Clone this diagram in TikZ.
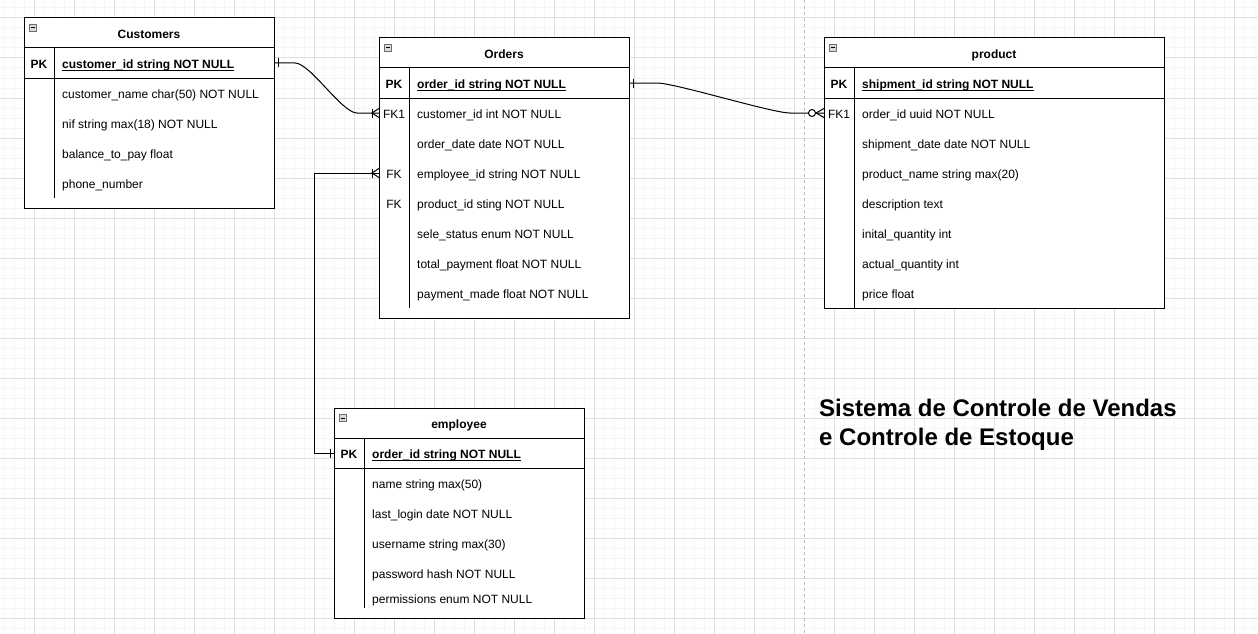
\documentclass[tikz,border=0pt]{standalone}
\usepackage{fontspec}
\setmainfont{Liberation Sans}
\usetikzlibrary{calc}
\definecolor{gridmaj}{RGB}{224,224,224}
\definecolor{gridmin}{RGB}{245,245,245}
\definecolor{dashc}{RGB}{190,190,190}
\definecolor{iconfill}{RGB}{218,218,218}
\definecolor{iconline}{RGB}{110,110,110}
\newcommand\erfs{\fontsize{12}{14}\selectfont}
\newcommand\erfsb{\fontsize{12}{14}\selectfont\bfseries}
\newcommand\erbig{\fontsize{24}{29}\selectfont\bfseries}
\tikzset{
  ln/.style={line width=1pt, draw=black},
  tbl/.style={ln, fill=white, anchor=north west, inner sep=0pt, outer sep=0pt},
  rowbox/.style={anchor=north west, minimum height=30, inner sep=0pt, outer sep=0pt},
  fld/.style={anchor=base west, inner sep=0pt, font=\erfs, yshift=-0.8pt},
  pkfld/.style={anchor=base west, inner sep=0pt, font=\erfsb, yshift=-0.8pt},
  keyl/.style={anchor=base, inner sep=0pt, font=\erfs, yshift=-0.8pt},
  pkkey/.style={anchor=base, inner sep=0pt, font=\erfsb, yshift=-0.8pt},
  ttl/.style={anchor=base, inner sep=0pt, font=\erfsb, yshift=-0.8pt},
  bigttl/.style={anchor=base west, inner sep=0pt, font=\erbig},
  conn/.style={line width=1pt, draw=black},
  minorgrid/.style={draw=gridmin, line width=1pt},
  majorgrid/.style={draw=gridmaj, line width=1pt},
}
% minus icon at table top-left corner (x,y)
\newcommand\ericon[2]{%
  \draw[draw=iconline, fill=iconfill, line width=0.8pt] (#1+5.5,#2+6.5) rectangle (#1+12.5,#2+13.5);
  \draw[line width=1pt] (#1+7,#2+10) -- (#1+11,#2+10);}
% one-or-many mark at the west side of a row node
\newcommand\crowW[1]{%
  \draw[conn] ($(#1.west)+(-7,-4.5)$) -- ($(#1.west)+(-7,4.5)$);
  \draw[conn] ($(#1.west)+(0,-4.5)$) -- ($(#1.west)+(-7,0)$) -- ($(#1.west)+(0,4.5)$);}
\newcommand\underl[1]{%
  \draw[line width=1pt] ($(#1.base west)+(0,1.6)$) -- ($(#1.base east)+(0,1.6)$);}
\begin{document}
\begin{tikzpicture}[x=1pt,y=-1pt]
\useasboundingbox (0,0) rectangle (1258,634);
\fill[white] (0,0) rectangle (1258,634);
% grid
\foreach \gx in {4,14,...,1254} {\draw[minorgrid] (\gx,0) -- (\gx,634);}
\foreach \gy in {8,18,...,628} {\draw[minorgrid] (0,\gy) -- (1258,\gy);}
\foreach \gx in {34,74,...,1234} {\draw[majorgrid] (\gx,0) -- (\gx,634);}
\foreach \gy in {18,58,...,618} {\draw[majorgrid] (0,\gy) -- (1258,\gy);}
\draw[dashc, line width=1pt, dash pattern=on 3pt off 3pt] (804,0) -- (804,634);

% ================= Customers =================
\node[tbl, minimum width=250, minimum height=190] (cust) at (24,18) {};
\draw[ln] (24,48) -- (274,48);
\draw[ln] (24,78) -- (274,78);
\draw[ln] (54,48) -- (54,198);
\ericon{24}{18}
\node[ttl] (custt) at (149,37.8) {Customers};
\node[rowbox, minimum width=250] (cpk) at (24,48) {};
\node[pkkey] (cpkk) at (39,67.8) {PK};
\node[pkfld] (cpkf) at (62,67.8) {customer\_id string NOT NULL};
\underl{cpkf}
\node[fld] (c1) at (62,97.8) {customer\_name char(50) NOT NULL};
\node[fld] (c2) at (62,127.8) {nif string max(18) NOT NULL};
\node[fld] (c3) at (62,157.8) {balance\_to\_pay float};
\node[fld] (c4) at (62,187.8) {phone\_number};

% ================= Orders =================
\node[tbl, minimum width=250, minimum height=280] (ord) at (379,38) {};
\draw[ln] (379,68) -- (629,68);
\draw[ln] (379,98) -- (629,98);
\draw[ln] (409,68) -- (409,308);
\ericon{379}{38}
\node[ttl] (ordt) at (504,57.8) {Orders};
\node[rowbox, minimum width=250] (opk) at (379,68) {};
\node[rowbox, minimum width=250] (ofk1) at (379,98) {};
\node[rowbox, minimum width=250] (ofk) at (379,158) {};
\node[pkkey] (opkk) at (394,87.8) {PK};
\node[pkfld] (opkf) at (417,87.8) {order\_id string NOT NULL};
\underl{opkf}
\node[keyl] (ok1) at (394,117.8) {FK1};
\node[keyl] (ok3) at (394,177.8) {FK};
\node[keyl] (ok4) at (394,207.8) {FK};
\node[fld] (o1) at (417,117.8) {customer\_id int NOT NULL};
\node[fld] (o2) at (417,147.8) {order\_date date NOT NULL};
\node[fld] (o3) at (417,177.8) {employee\_id string NOT NULL};
\node[fld] (o4) at (417,207.8) {product\_id sting NOT NULL};
\node[fld] (o5) at (417,237.8) {sele\_status enum NOT NULL};
\node[fld] (o6) at (417,267.8) {total\_payment float NOT NULL};
\node[fld] (o7) at (417,297.8) {payment\_made float NOT NULL};

% ================= product =================
\node[tbl, minimum width=340, minimum height=270] (prod) at (824,38) {};
\draw[ln] (824,68) -- (1164,68);
\draw[ln] (824,98) -- (1164,98);
\draw[ln] (854,68) -- (854,308);
\ericon{824}{38}
\node[ttl] (prodt) at (994,57.8) {product};
\node[rowbox, minimum width=340] (pfk1) at (824,98) {};
\node[pkkey] (ppkk) at (839,87.8) {PK};
\node[pkfld] (ppkf) at (862,87.8) {shipment\_id string NOT NULL};
\underl{ppkf}
\node[keyl] (pk1) at (839,117.8) {FK1};
\node[fld] (p1) at (862,117.8) {order\_id uuid NOT NULL};
\node[fld] (p2) at (862,147.8) {shipment\_date date NOT NULL};
\node[fld] (p3) at (862,177.8) {product\_name string max(20)};
\node[fld] (p4) at (862,207.8) {description text};
\node[fld] (p5) at (862,237.8) {inital\_quantity int};
\node[fld] (p6) at (862,267.8) {actual\_quantity int};
\node[fld] (p7) at (862,297.8) {price float};

% ================= employee =================
\node[tbl, minimum width=250, minimum height=210] (emp) at (334,408) {};
\draw[ln] (334,438) -- (584,438);
\draw[ln] (334,468) -- (584,468);
\draw[ln] (364,438) -- (364,608);
\ericon{334}{408}
\node[ttl] (empt) at (459,427.8) {employee};
\node[rowbox, minimum width=250] (epk) at (334,438) {};
\node[pkkey] (epkk) at (349,457.8) {PK};
\node[pkfld] (epkf) at (372,457.8) {order\_id string NOT NULL};
\underl{epkf}
\node[fld] (e1) at (372,487.8) {name string max(50)};
\node[fld] (e2) at (372,517.8) {last\_login date NOT NULL};
\node[fld] (e3) at (372,547.8) {username string max(30)};
\node[fld] (e4) at (372,577.8) {password hash NOT NULL};
\node[fld] (e5) at (372,602.8) {permissions enum NOT NULL};

% ================= title =================
\node[bigttl] (title1) at (819,416) {Sistema de Controle de Vendas};
\node[bigttl] (title2) at (819,445) {e Controle de Estoque};

% ================= connectors =================
% Customers (one) -- Orders (one or many)
\draw[conn] (cpk.east) -- ($(cpk.east)+(21,0)$)
  .. controls ($(cpk.east)+(36,0)$) and ($(ofk1.west)+(-37,0)$) .. ($(ofk1.west)+(-22,0)$)
  -- (ofk1.west);
\draw[conn] ($(cpk.east)+(4,-4.5)$) -- ($(cpk.east)+(4,4.5)$);
\crowW{ofk1}

% Orders (one) -- product (zero or many)
\draw[conn] (opk.east) -- ($(opk.east)+(28,0)$)
  .. controls ($(opk.east)+(46,0)$) and ($(pfk1.west)+(-52,0)$) .. ($(pfk1.west)+(-34,0)$)
  -- (pfk1.west);
\draw[conn] ($(opk.east)+(4,-4.5)$) -- ($(opk.east)+(4,4.5)$);
\draw[conn] ($(pfk1.west)+(0,-4.5)$) -- ($(pfk1.west)+(-8,0)$) -- ($(pfk1.west)+(0,4.5)$);
\draw[conn, fill=white] ($(pfk1.west)+(-12,0)$) circle[radius=3.5];

% employee (one) -- Orders (one or many)
\draw[conn] (epk.west) -- ($(epk.west)+(-20,0)$) |- (ofk.west);
\draw[conn] ($(epk.west)+(-4,-4.5)$) -- ($(epk.west)+(-4,4.5)$);
\crowW{ofk}
\end{tikzpicture}
\end{document}
